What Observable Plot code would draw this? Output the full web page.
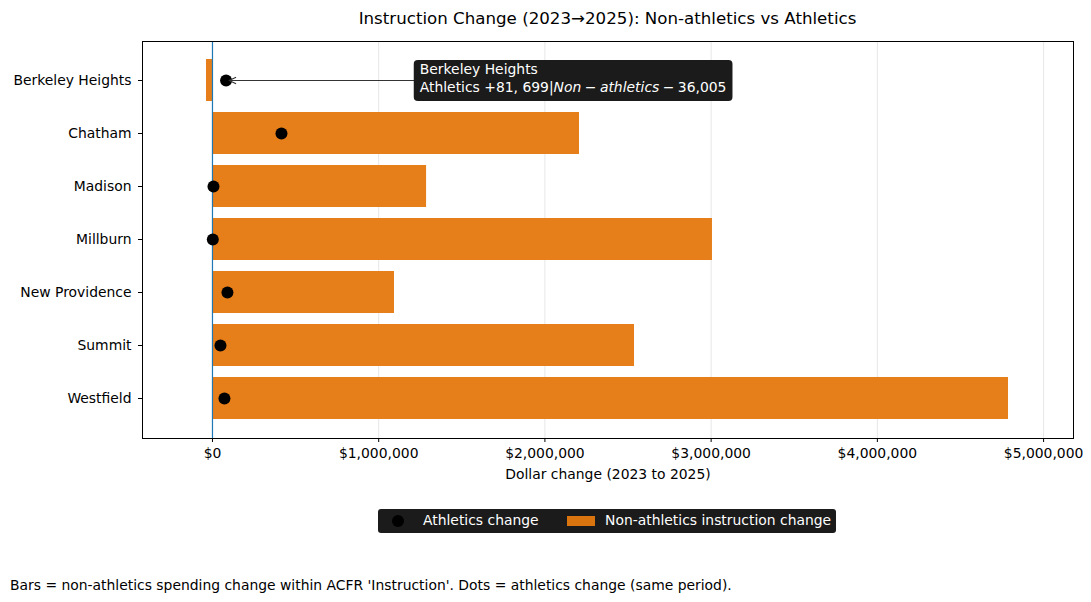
<!DOCTYPE html>
<html>
<head>
<meta charset="utf-8">
<script src="https://cdn.jsdelivr.net/npm/d3@7"></script>
<script src="https://cdn.jsdelivr.net/npm/@observablehq/plot@0.6"></script>
<style>
  html, body { margin: 0; padding: 0; background: white; }
  body { width: 1091px; height: 602px; position: relative; font-family: "DejaVu Sans", sans-serif; color: #000; overflow: hidden; }
  #title { position: absolute; left: 142px; width: 931px; top: 9px; text-align: center; font-size: 16.67px; line-height: 20px; }
  #chart { position: absolute; left: 0; top: 36px; }
  #legend { position: absolute; left: 378px; top: 509px; width: 458px; height: 24px; background: #1b1b1b; border-radius: 3px; color: white; font-size: 13.9px; }
  #legend .item { position: absolute; top: 0; height: 24px; line-height: 23px; white-space: nowrap; }
  #legend .dot { position: absolute; left: 14px; top: 6px; width: 12px; height: 12px; border-radius: 50%; background: #000; }
  #legend .sw { position: absolute; left: 189px; top: 7px; width: 28px; height: 10px; background: #d9740f; }
  #caption { position: absolute; left: 10px; top: 576px; font-size: 13.9px; line-height: 18px; white-space: nowrap; }
</style>
</head>
<body>
<div id="title">Instruction Change (2023→2025): Non-athletics vs Athletics</div>
<div id="chart"></div>
<div id="legend">
  <div class="dot"></div>
  <div class="item" style="left:45px">Athletics change</div>
  <div class="sw"></div>
  <div class="item" style="left:227px">Non-athletics instruction change</div>
</div>
<div id="caption">Bars = non-athletics spending change within ACFR 'Instruction'. Dots = athletics change (same period).</div>
<script>
// ---- data ----
const districts = ["Berkeley Heights", "Chatham", "Madison", "Millburn", "New Providence", "Summit", "Westfield"];
const nonAthletics = [-36005, 2208000, 1288000, 3008000, 1095000, 2539000, 4789000];
const athletics = [81699, 415000, 6000, 2000, 90000, 48000, 72000];
const xTicks = [0, 1000000, 2000000, 3000000, 4000000, 5000000];
const annotDistrict = ["Berkeley Heights"];
const annotTextX = [1250000];
const annotLine1 = ["Berkeley Heights"];

const rows = districts.map((d, i) => ({district: d, non: nonAthletics[i], ath: athletics[i]}));
const annRow = rows.find(r => r.district === annotDistrict[0]);
const annData = [{district: annRow.district, tx: annotTextX[0] - 36000, ax: annRow.ath}];

const plot = Plot.plot({
  width: 1091,
  height: 452,
  marginLeft: 142,
  marginRight: 18,
  marginTop: 5,
  marginBottom: 50,
  style: {fontFamily: "DejaVu Sans, sans-serif", fontSize: "13.9px", color: "#000", background: "white", overflow: "visible"},
  x: {
    domain: [-421000, 5180000],
    ticks: xTicks,
    tickFormat: d => "$" + d3.format(",")(d),
    tickSize: 4,
    tickPadding: 6,
    label: "Dollar change (2023 to 2025)",
    labelAnchor: "center",
    labelArrow: "none",
    labelOffset: 40
  },
  y: {
    domain: districts,
    paddingInner: 0.2,
    paddingOuter: 0.34,
    tickSize: 4,
    tickPadding: 7,
    label: null
  },
  marks: [
    Plot.gridX(xTicks, {stroke: "#000", strokeOpacity: 0.1, strokeWidth: 1}),
    Plot.barX(rows, {x: "non", y: "district", fill: "#e67e19"}),
    Plot.ruleX([0], {stroke: "#1f77b4", strokeWidth: 1.2}),
    Plot.dot(rows, {x: "ath", y: "district", r: 6, fill: "#000", stroke: "none"}),
    Plot.arrow(annData, {x1: "tx", y1: "district", x2: "ax", y2: "district", stroke: "#333", strokeWidth: 1.2, headLength: 9, headAngle: 50, insetEnd: 3}),
    Plot.frame({stroke: "#000", strokeWidth: 1})
  ]
});
document.getElementById("chart").appendChild(plot);

// annotation box with mixed-style text, positioned through Plot's scales
const xs = plot.scale("x"), ys = plot.scale("y");
const px = xs.apply(annotTextX[0]);
const py = ys.apply(annRow.district) + ys.bandwidth / 2;
const svg = d3.select(plot);
const g = svg.append("g").attr("class", "annotation");
const rect = g.append("rect");
const t = g.append("text").attr("fill", "white").attr("font-size", 13.9)
  .attr("font-family", "DejaVu Sans, sans-serif").attr("text-anchor", "start");
t.append("tspan").attr("x", px).attr("y", py - 11).attr("dy", "0.35em").text(annotLine1[0]);
const fmtAth = d3.format(",")(annRow.ath).replace(",", ", ");
const fmtNon = d3.format(",")(Math.abs(annRow.non));
const l2 = t.append("tspan").attr("x", px).attr("y", py + 7).attr("dy", "0.35em");
l2.append("tspan").text("Athletics +" + fmtAth + "|");
l2.append("tspan").attr("font-style", "italic").text("Non");
l2.append("tspan").text("\u2005−\u2005");
l2.append("tspan").attr("font-style", "italic").text("athletics");
l2.append("tspan").text("\u2005−\u2005" + fmtNon);
const bb = t.node().getBBox();
rect.attr("x", bb.x - 6).attr("y", py - 20).attr("width", bb.width + 12).attr("height", 41)
  .attr("rx", 4).attr("fill", "#1b1b1b");
</script>
</body>
</html>
